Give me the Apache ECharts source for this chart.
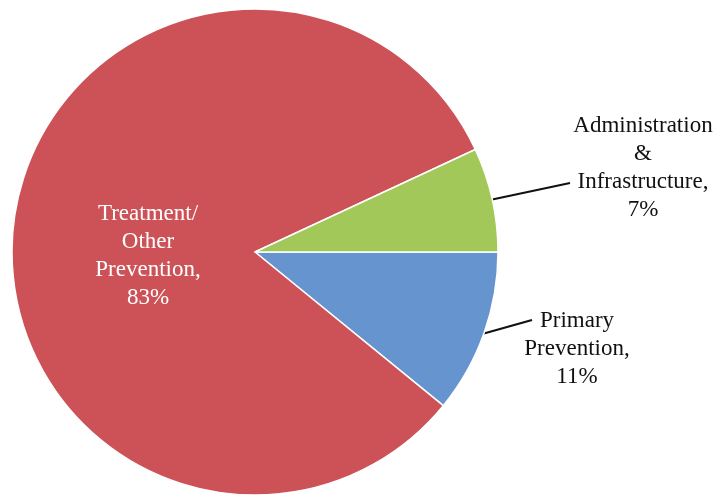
<!DOCTYPE html>
<html>
<head>
<meta charset="utf-8">
<script src="https://cdn.jsdelivr.net/npm/echarts@6/dist/echarts.min.js"></script>
<style>
  html, body { margin: 0; padding: 0; background: #fff; }
  #chart { width: 716px; height: 495px; }
</style>
</head>
<body>
<div id="chart"></div>
<script>
// Spending shares, listed clockwise from 3 o'clock
const categories = ['Primary\nPrevention', 'Treatment/\nOther\nPrevention', 'Administration\n&\nInfrastructure'];
const shares = [11, 83, 7];
const sliceColors = ['#6694CF', '#CD5257', '#A3C85A'];
const labelColors = ['#111111', '#ffffff', '#111111'];
const labelPositions = ['outside', 'inside', 'outside'];

// Label block centres and leader-line end offsets (relative to the label centre)
const labelPlacement = [
  { x: 577, y: 349, lineEnd: [-45, -29] },
  { x: 148, y: 256, lineEnd: null },
  { x: 643, y: 168, lineEnd: [-73, 15] }
];

const chart = echarts.init(document.getElementById('chart'), null, { renderer: 'canvas' });

chart.setOption({
  animation: false,
  backgroundColor: '#ffffff',
  series: [{
    type: 'pie',
    center: [255, 252],
    radius: 243,
    startAngle: 0,
    clockwise: true,
    avoidLabelOverlap: false,
    itemStyle: { borderColor: '#ffffff', borderWidth: 1.5 },
    label: {
      show: true,
      fontFamily: '"Liberation Serif", "Times New Roman", serif',
      fontSize: 23,
      lineHeight: 28,
      formatter: p => p.name + ',\n' + p.value + '%'
    },
    labelLine: {
      show: true,
      length: 20,
      length2: 10,
      smooth: false,
      lineStyle: { color: '#111111', width: 2.2 }
    },
    emphasis: { disabled: true },
    labelLayout: function (params) {
      const cfg = labelPlacement[params.dataIndex];
      const out = { x: cfg.x, y: cfg.y, align: 'center', verticalAlign: 'middle' };
      if (cfg.lineEnd && params.labelLinePoints) {
        const start = params.labelLinePoints[0];
        const end = [cfg.x + cfg.lineEnd[0], cfg.y + cfg.lineEnd[1]];
        out.labelLinePoints = [start, end, end];
      }
      return out;
    },
    data: categories.map((name, i) => ({
      name: name,
      value: shares[i],
      itemStyle: { color: sliceColors[i] },
      label: { color: labelColors[i], position: labelPositions[i] },
      labelLine: { show: labelPlacement[i].lineEnd !== null }
    }))
  }]
});
</script>
</body>
</html>
